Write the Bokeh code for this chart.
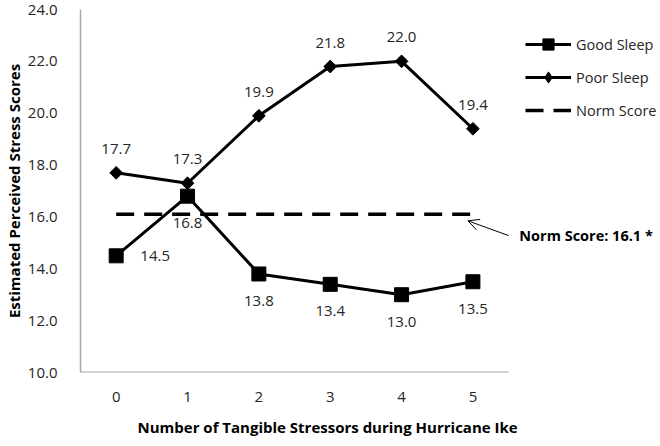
from bokeh.plotting import figure
from bokeh.models import (ColumnDataSource, FixedTicker, Legend, LegendItem, Label, Arrow,
                          OpenHead, Range1d, NumeralTickFormatter, Title)
from bokeh.core.properties import value
from bokeh.embed import file_html
from bokeh.resources import INLINE

categories = ["0", "1", "2", "3", "4", "5"]
good_sleep = [14.5, 16.8, 13.8, 13.4, 13.0, 13.5]
poor_sleep = [17.7, 17.3, 19.9, 21.8, 22.0, 19.4]
norm_score = 16.1
y_ticks = [10, 12, 14, 16, 18, 20, 22, 24]
x_title = "Number of Tangible Stressors during Hurricane Ike"
y_title = "Estimated Perceived Stress Scores"
annotation = "Norm Score: 16.1 *"

FONT = "Open Sans"
TXT = "#262626"
AXIS_C = "#A6A6A6"
xs = list(range(len(categories)))
n = len(categories)

W, H = 660, 446
left, top, bottom = 72, 9, 71
plot_w = 434                      # pixels used by the category slots
x_start = -0.5
x_end = x_start + n * (W - left) / plot_w   # frame extends over the legend area

p = figure(width=W, height=H, output_backend="svg", toolbar_location=None,
           x_range=Range1d(x_start, x_end), y_range=Range1d(y_ticks[0], y_ticks[-1]),
           min_border_top=top, min_border_bottom=bottom, min_border_left=left, min_border_right=0)
p.outline_line_color = None
p.grid.visible = False
p.background_fill_color = "white"

# axes
p.xaxis.ticker = FixedTicker(ticks=xs)
p.xaxis.major_label_overrides = {i: c for i, c in enumerate(categories)}
p.yaxis.ticker = FixedTicker(ticks=y_ticks)
p.yaxis.formatter = NumeralTickFormatter(format="0.0")
for ax in (p.xaxis[0], p.yaxis[0]):
    ax.axis_line_color = AXIS_C
    ax.axis_line_width = 1.5
    ax.major_tick_line_color = None
    ax.minor_tick_line_color = None
    ax.major_label_text_font = FONT
    ax.major_label_text_font_size = "15px"
    ax.major_label_text_color = TXT
    ax.axis_label_text_font = FONT
    ax.axis_label_text_font_style = "bold"
    ax.axis_label_text_font_size = "15px"
    ax.axis_label_text_color = "black"
p.xaxis.axis_line_color = None
p.yaxis.axis_label = y_title
p.xaxis.major_label_standoff = 13
p.yaxis.major_label_standoff = 17
p.yaxis.axis_label_standoff = 1

# x axis title, centred like the reference (under slots + legend area)
p.add_layout(Title(text=x_title, align="left", offset=57, standoff=20, text_font=FONT,
                   text_font_size="15px", text_font_style="bold", text_color="black"), "below")

# x axis line only across the category slots
p.segment(x0=[x_start], y0=[y_ticks[0]], x1=[n - 0.5], y1=[y_ticks[0]],
          line_color=AXIS_C, line_width=2)

# series
src_good = ColumnDataSource(dict(x=xs, y=good_sleep, lab=[f"{v:.1f}" for v in good_sleep]))
src_poor = ColumnDataSource(dict(x=xs, y=poor_sleep, lab=[f"{v:.1f}" for v in poor_sleep]))

l_good = p.line("x", "y", source=src_good, line_color="black", line_width=3)
m_good = p.scatter("x", "y", source=src_good, marker="square", size=14,
                   fill_color="black", line_color="black")
l_poor = p.line("x", "y", source=src_poor, line_color="black", line_width=3)
m_poor = p.scatter("x", "y", source=src_poor, marker="square", size=9, angle=0.785398,
                   fill_color="black", line_color="black")
# legend-only diamond (legend glyphs ignore marker angle); its point lies outside the view
m_poor_leg = p.scatter(x=[x_end * 3], y=[norm_score], marker="diamond",
                       fill_color="black", line_color="black")
l_norm = p.line([xs[0], xs[-1]], [norm_score, norm_score], line_color="black",
                line_width=3.5, line_dash="18 10")

# data labels
p.text("x", "y", text="lab", source=src_poor, text_font=value(FONT), text_font_size="15px",
       text_color=TXT, text_align="center", text_baseline="middle", y_offset=-24)
src_good.data["xo"] = [39 if i == 0 else 0 for i in xs]
src_good.data["yo"] = [0 if i == 0 else 27 for i in xs]
p.text("x", "y", text="lab", source=src_good, text_font=value(FONT), text_font_size="15px",
       text_color=TXT, text_align="center", text_baseline="middle", x_offset="xo", y_offset="yo")

# annotation
p.add_layout(Arrow(end=OpenHead(size=11, line_width=1, line_color="black"),
                   x_start=5.5, y_start=norm_score - 0.82, x_end=4.93, y_end=norm_score - 0.25,
                   line_width=1, line_color="black"))
p.add_layout(Label(x=5.65, y=norm_score - 0.82, text=annotation, text_font=FONT,
                   text_font_size="14.5px", text_font_style="bold", text_color="black",
                   text_baseline="middle", text_align="left"))

legend = Legend(items=[
    LegendItem(label="Good Sleep", renderers=[l_good, m_good]),
    LegendItem(label="Poor Sleep", renderers=[l_poor, m_poor_leg]),
    LegendItem(label="Norm Score", renderers=[l_norm]),
], location=(445, 248), padding=0, margin=0, glyph_width=46, glyph_height=28,
    label_height=28, spacing=5, label_standoff=5, border_line_color=None,
    background_fill_alpha=0, label_text_font=FONT, label_text_font_size="14.5px",
    label_text_color=TXT)
p.add_layout(legend)

open("out.html", "w").write(file_html(p, INLINE))
